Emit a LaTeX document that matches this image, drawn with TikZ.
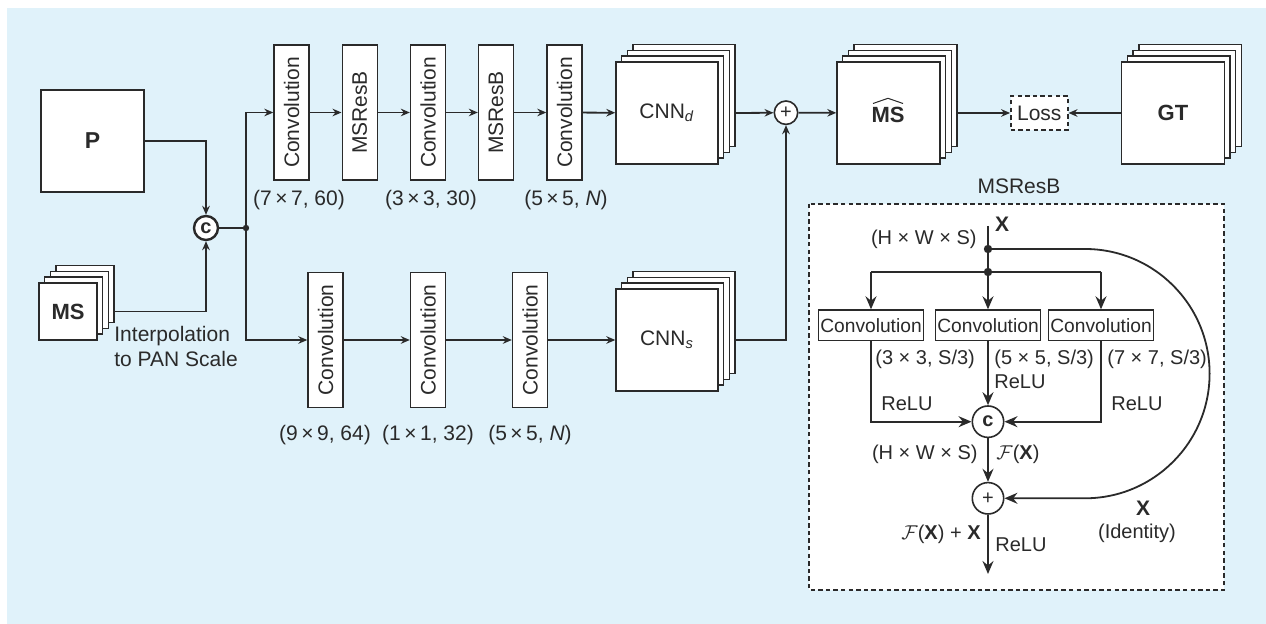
\documentclass[tikz,border=0pt]{standalone}
\usepackage{fontspec}
\setmainfont{Liberation Sans}
\usepackage{graphicx}
\usetikzlibrary{arrows.meta,calc}
\definecolor{bg}{HTML}{E0F2FA}
\definecolor{lc}{HTML}{2A2A2A}
\tikzset{
 box/.style={draw=lc, fill=white, line width=0.7pt, inner sep=0pt, text=lc},
 vbox/.style={box, minimum width=17.5pt, minimum height=67.5pt},
 layer/.style={box, minimum width=51pt, minimum height=51pt},
 conn/.style={draw=lc, line width=0.9pt},
 arr/.style={conn, -{Stealth[length=4.5pt,width=3.8pt,inset=1.5pt]}},
 barr/.style={conn, -{Stealth[length=6.5pt,width=5.5pt,inset=2.2pt]}},
 lbl/.style={inner sep=0pt, text=lc},
 dot/.style={circle, fill=lc, inner sep=0pt, minimum size=3.2pt},
 bdot/.style={circle, fill=lc, inner sep=0pt, minimum size=4.2pt},
 circ/.style={circle, draw=lc, fill=white, inner sep=0pt, text=lc},
 ibox/.style={box, minimum width=52.5pt, minimum height=15.3pt, font=\fontsize{9.6}{11}\selectfont},
 dbox/.style={draw=lc, line width=0.7pt, dash pattern=on 2.2pt off 1.6pt},
}
\newcommand\mkstack[6]{% name, x, y, w, h, label
 \foreach \k in {3,2,1}{\node[layer, minimum width=#4, minimum height=#5] at ({#2+\k*5.7},{#3-\k*5.8}) {};}
 \node[layer, minimum width=#4, minimum height=#5] (#1) at (#2,#3) {#6};
 \coordinate (#1out) at ($(#1.east)+(17.1,0)$);
}
\begin{document}
\begin{tikzpicture}[x=0.5pt,y=-0.5pt, font=\fontsize{10.5}{12.5}\selectfont]
\useasboundingbox (0,0) rectangle (1266,624);
\fill[bg] (7,8) rectangle (1266,624);

% inputs
\node[box, minimum width=51.5pt, minimum height=51pt, font=\fontsize{11.5}{13}\selectfont\bfseries] (P) at (92.5,141) {P};
\mkstack{MS}{68}{311.5}{29pt}{28.5pt}{\fontsize{11}{13}\selectfont\bfseries MS}
\node[lbl, anchor=west, align=left] at (114,346) {Interpolation\\to PAN Scale};

\node[circ, minimum size=12pt, line width=1.2pt, font=\fontsize{10}{11}\selectfont\bfseries] (cc) at (206,228) {c};
\coordinate (j) at (246,228);

\draw[arr] (P) -| (cc);
\draw[arr] (MSout) -| (cc);
\draw[conn] (cc) -- (j);

% top branch
\node[vbox] (t1) at (291.5,112.5) {\rotatebox{90}{Convolution}};
\node[vbox] (t2) at (359.7,112.5) {\rotatebox{90}{MSResB}};
\node[vbox] (t3) at (428,112.5) {\rotatebox{90}{Convolution}};
\node[vbox] (t4) at (496,112.5) {\rotatebox{90}{MSResB}};
\node[vbox] (t5) at (564.5,112.5) {\rotatebox{90}{Convolution}};
\node[lbl] at (299,200) {(7\,×\,7, 60)};
\node[lbl] at (431,200) {(3\,×\,3, 30)};
\node[lbl] at (566,200) {(5\,×\,5, \textit{N})};

\mkstack{cnnd}{667}{113}{51pt}{51pt}{CNN\textsubscript{\textit{d}}}

\draw[arr] (j) |- (t1);
\draw[arr] (t1) -- (t2);
\draw[arr] (t2) -- (t3);
\draw[arr] (t3) -- (t4);
\draw[arr] (t4) -- (t5);
\draw[arr] (t5) -- (cnnd);

% bottom branch
\node[vbox] (b1) at (325.5,340) {\rotatebox{90}{Convolution}};
\node[vbox] (b2) at (428,340) {\rotatebox{90}{Convolution}};
\node[vbox] (b3) at (530,340) {\rotatebox{90}{Convolution}};
\node[lbl] at (325,435) {(9\,×\,9, 64)};
\node[lbl] at (428,435) {(1\,×\,1, 32)};
\node[lbl] at (530,435) {(5\,×\,5, \textit{N})};

\mkstack{cnns}{667}{340}{51pt}{51pt}{CNN\textsubscript{\textit{s}}}

\draw[arr] (j) |- (b1);
\draw[arr] (b1) -- (b2);
\draw[arr] (b2) -- (b3);
\draw[arr] (b3) -- (cnns);
\node[dot] at (j) {};

% fusion
\node[circ, minimum size=11.7pt, line width=0.8pt, font=\fontsize{10}{11}\selectfont] (pl) at (786,112.7) {+};
\draw[arr] (cnndout) -- (pl);
\draw[arr] (cnnsout) -| (pl);

\mkstack{mshat}{888.5}{113}{51.5pt}{51pt}{}
\node[lbl, font=\fontsize{11}{13}\selectfont\bfseries] (mstext) at (888,114.5) {MS};
\draw[lc, line width=0.5pt] (873,103.5) .. controls (880,100.5) .. (888,98.3) .. controls (896,100.5) .. (903,103.5);
\draw[arr] (pl) -- (mshat);

\node[lbl, dbox, fill=white, minimum width=28.5pt, minimum height=17pt] (loss) at (1039.3,113) {Loss};
\mkstack{gt}{1173}{113}{51.3pt}{51pt}{\fontsize{11}{13}\selectfont\bfseries GT}
\draw[arr] (mshatout) -- (loss);
\draw[arr] (gt) -- (loss);

% MSResB detail
\node[lbl] at (1019,186) {MSResB};
\draw[dbox, fill=white] (809,204) rectangle (1224,590);

\begin{scope}[font=\fontsize{10}{12}\selectfont]
\coordinate (xtop) at (988,226);
\coordinate (d1) at (988,249);
\coordinate (d2) at (988,272);
\node[lbl, font=\fontsize{10.5}{12}\selectfont\bfseries] at (1002,224) {X};
\node[lbl, anchor=east] at (977,239) {(H × W × S)};

\node[ibox] (cL) at (871,325.3) {Convolution};
\node[ibox] (cM) at (988,325.3) {Convolution};
\node[ibox] (cR) at (1101,325.3) {Convolution};

\node[circ, minimum size=15.7pt, line width=0.8pt, font=\fontsize{10}{11}\selectfont\bfseries] (c2) at (988,421.7) {c};
\node[circ, minimum size=15.7pt, line width=0.8pt, font=\fontsize{10}{11}\selectfont] (p2) at (988,498.3) {+};
\coordinate (outp) at (988,574);

\draw[conn] (xtop) -- (d2);
\draw[conn] (cL.north |- d2) -- (cR.north |- d2);
\draw[barr] (cL.north |- d2) -- (cL.north);
\draw[barr] (d2) -- (cM.north);
\draw[barr] (cR.north |- d2) -- (cR.north);
\draw[barr] (cL.south) |- (c2);
\draw[barr] (cR.south) |- (c2);
\draw[barr] (cM) -- (c2);
\draw[barr] (c2) -- (p2);
\draw[barr] (p2) -- (outp);
\coordinate (ia) at (1085,249);
\coordinate (ib) at (1209.6,373.6);
\coordinate (ic) at (1085,498.3);
\draw[barr] (d1) -- (ia) .. controls (1153.8,249) and (1209.6,304.8) .. (ib) .. controls (1209.6,442.4) and (1153.8,498.3) .. (ic) -- (p2);
\node[bdot] at (d1) {};
\node[bdot] at (d2) {};

\node[lbl, anchor=west] at (875,359) {(3 × 3, S/3)};
\node[lbl, anchor=west] at (994,359) {(5 × 5, S/3)};
\node[lbl, anchor=west] at (994,381.7) {ReLU};
\node[lbl, anchor=west] at (1107,359) {(7 × 7, S/3)};
\node[lbl, anchor=west] at (881,404) {ReLU};
\node[lbl, anchor=west] at (1111,404) {ReLU};
\node[lbl, anchor=east] at (978,454) {(H × W × S)};
\node[lbl, anchor=west] at (996,454) {$\mathcal{F}$(\textbf{X})};
\node[lbl, anchor=east] at (981,534) {$\mathcal{F}$(\textbf{X}) + \textbf{X}};
\node[lbl, anchor=west] at (995,545) {ReLU};
\node[lbl, font=\fontsize{10.5}{12}\selectfont\bfseries] at (1143,508) {X};
\node[lbl] at (1137,533) {(Identity)};
\end{scope}
\end{tikzpicture}
\end{document}
